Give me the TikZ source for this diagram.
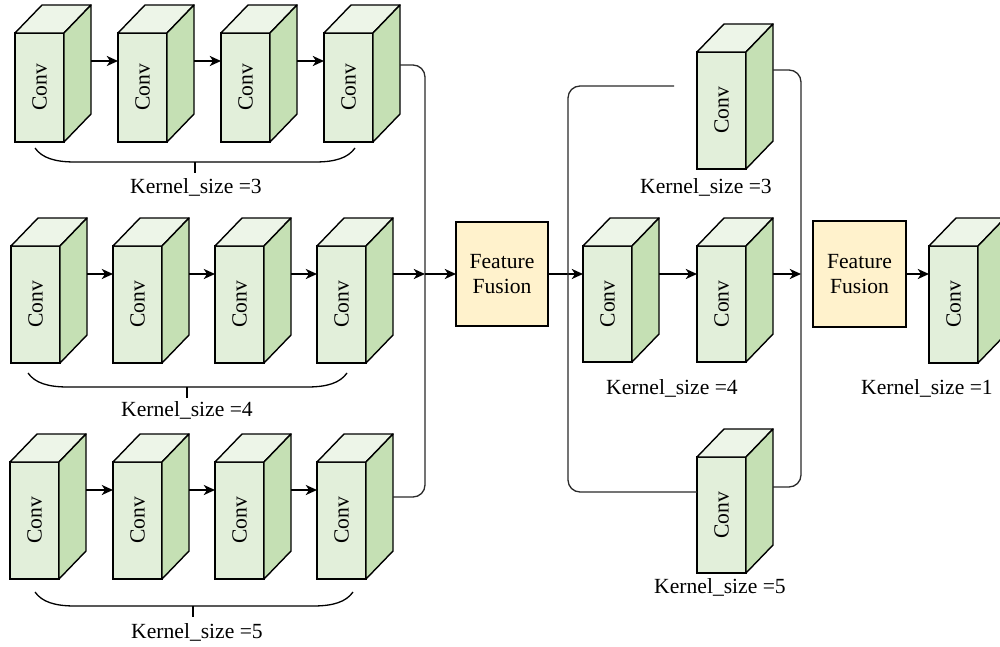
\documentclass[tikz,border=0pt]{standalone}
\usepackage{fontspec}
\setmainfont{Liberation Serif}
\usepackage{graphicx}
\usetikzlibrary{calc,arrows.meta}
\definecolor{frontc}{HTML}{E2EFDA}
\definecolor{sidec}{HTML}{C5E0B4}
\definecolor{topc}{HTML}{EDF5E8}
\definecolor{ffc}{HTML}{FFF2CC}
\definecolor{busc}{HTML}{2A2A2A}
\tikzset{
  txt/.style={font=\fontsize{10.8}{12.8}\selectfont, inner sep=0pt},
  convface/.style={draw=black, line width=0.7pt, fill=frontc, minimum width=24.5pt, inner sep=0pt, outer sep=0pt, txt},
  cubeline/.style={draw=black, line width=0.7pt, line join=round},
  ffbox/.style={draw=black, line width=0.7pt, fill=ffc, align=center, outer sep=0pt, txt},
  arr/.style={line width=1pt, -{Stealth[length=5.6pt,width=5pt,inset=1.6pt]}},
  bus/.style={draw=busc, line width=0.65pt, rounded corners=6pt},
  bracec/.style={draw=black, line width=0.65pt},
  klabel/.style={txt}
}
% #1 name, #2 x, #3 y of front top-left (px), #4 front height (px)
\newcommand{\convcube}[4]{%
  \node[convface, minimum height=#4*0.5pt, anchor=north west] (#1) at (#2,#3) {\rotatebox{90}{Conv}};
  \draw[cubeline, fill=topc] (#1.north west) -- ++(27,-28) -- ++(49,0) -- (#1.north east) -- cycle;
  \draw[cubeline, fill=sidec] (#1.north east) -- ++(27,-28) -- ++(0,#4) -- (#1.south east) -- cycle;
  \coordinate (#1i) at ($(#1.north west)+(0,28)$);
  \coordinate (#1o) at ($(#1.north east)+(27,28)$);
}
% #1 x left, #2 x right, #3 y top, #4 x of tick
\newcommand{\bracketline}[4]{%
  \draw[bracec] (#1,#3) .. controls (#1+7,#3+10) and (#1+20,#3+14) .. (#1+40,#3+14)
     -- (#2-40,#3+14) .. controls (#2-20,#3+14) and (#2-7,#3+10) .. (#2,#3);
  \draw[bracec] (#4,#3+14) -- (#4,#3+25);
}
\begin{document}
\begin{tikzpicture}[x=0.5pt,y=-0.5pt]
\useasboundingbox (0,0) rectangle (1000,647);
\clip (0,0) rectangle (1000,647);

% ---- Row 1 (kernel 3)
\convcube{a1}{15}{33}{109}
\convcube{a2}{118}{33}{109}
\convcube{a3}{221}{33}{109}
\convcube{a4}{324}{33}{109}
\draw[arr] (a1o) -- (a2i);
\draw[arr] (a2o) -- (a3i);
\draw[arr] (a3o) -- (a4i);
\bracketline{35}{355}{148}{195}
\node[klabel] (k1) at (196,187) {Kernel\_size =3};

% ---- Row 2 (kernel 4)
\convcube{b1}{11}{246}{117}
\convcube{b2}{113}{246}{117}
\convcube{b3}{215}{246}{117}
\convcube{b4}{317}{246}{117}
\draw[arr] (b1o) -- (b2i);
\draw[arr] (b2o) -- (b3i);
\draw[arr] (b3o) -- (b4i);
\bracketline{28}{347}{373}{187}
\node[klabel] (k2) at (187,410) {Kernel\_size =4};

% ---- Row 3 (kernel 5)
\convcube{c1}{10}{462}{117}
\convcube{c2}{113}{462}{117}
\convcube{c3}{215}{462}{117}
\convcube{c4}{317}{462}{117}
\draw[arr] (c1o) -- (c2i);
\draw[arr] (c2o) -- (c3i);
\draw[arr] (c3o) -- (c4i);
\bracketline{35}{353}{592}{193}
\node[klabel] (k3) at (197,632) {Kernel\_size =5};

% ---- first merge bus
\coordinate (p1t) at (425,65);
\coordinate (p1m) at (425,274);
\coordinate (p1b) at (425,497);
\draw[bus] ($(a4o)+(0,4)$) -- (p1t) -- (p1b) -- ($(c4o)+(0,7)$);
\draw[arr] (b4o) -- (p1m);

% ---- Feature Fusion 1
\node[ffbox, minimum width=46pt, minimum height=52pt] (ff1) at (502,274) {Feature\\Fusion};
\draw[arr] (p1m) -- (ff1.west);

% ---- middle block
\convcube{mt}{697}{52}{117}
\convcube{m1}{583}{246}{116}
\convcube{m2}{697}{246}{116}
\convcube{mb}{697}{457}{116}
\draw[arr] (ff1.east) -- (m1i);
\draw[arr] (m1o) -- (m2i);

\coordinate (p2s) at (674,86);
\coordinate (p2t) at (568,86);
\coordinate (p2b) at (568,492);
\draw[bus] (p2s) -- (p2t) -- (p2b) -- (mb.west |- p2b);

\coordinate (p3t) at (801,70);
\coordinate (p3m) at (801,274);
\coordinate (p3b) at (801,487);
\draw[bus] ($(mt.north east)+(27,18)$) -- (p3t) -- (p3b) -- ($(mb.north east)+(27,30)$);
\draw[arr] (m2o) -- (p3m);

\node[klabel] (k4) at (706,187) {Kernel\_size =3};
\node[klabel] (k5) at (672,388) {Kernel\_size =4};
\node[klabel] (k6) at (720,587) {Kernel\_size =5};

% ---- Feature Fusion 2 and final conv
\node[ffbox, minimum width=46.5pt, minimum height=53pt] (ff2) at (859.5,274) {Feature\\Fusion};
\convcube{r1}{929}{246}{117}
\draw[arr] (ff2.east) -- (r1i);
\node[klabel] (k7) at (927,388) {Kernel\_size =1};
\end{tikzpicture}
\end{document}
